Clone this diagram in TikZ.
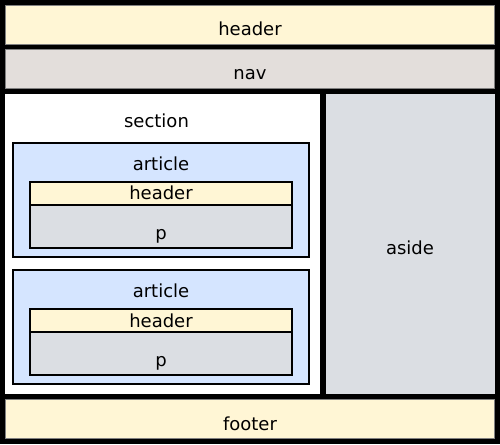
\documentclass[tikz,border=0pt]{standalone}
\usepackage{fontspec}
\setmainfont{DejaVu Sans}
\definecolor{hdrfill}{RGB}{255,246,213}
\definecolor{navfill}{RGB}{227,222,219}
\definecolor{greyfill}{RGB}{219,222,227}
\definecolor{artfill}{RGB}{213,229,255}
\definecolor{thinline}{RGB}{128,128,128}
\begin{document}
\begin{tikzpicture}[x=0.75pt, y=-0.75pt, band/.style={draw=thinline, line width=0.75pt}, part/.style={draw=black, line width=1.5pt}, every node/.style={font=\fontsize{13.5}{16}\selectfont, inner sep=0pt, anchor=base}]
\useasboundingbox (0,0) rectangle (500,444);
\fill[black] (0,0) rectangle (500,444);
\begin{scope}
\filldraw[band, fill=hdrfill] (5.5,5.5) rectangle (494.5,44);
\filldraw[band, fill=navfill] (5.5,49.5) rectangle (494.5,88.5);
\fill[white] (5,94) rectangle (320,394);
\fill[greyfill] (326,94) rectangle (495,394);
\filldraw[band, fill=hdrfill] (5.5,399.5) rectangle (494.5,438.5);
\end{scope}
\begin{scope}
\filldraw[part, fill=artfill] (13,143) rectangle (309,257);
\filldraw[part, fill=greyfill] (30,205) rectangle (292,247.5);
\filldraw[part, fill=hdrfill] (30,182) rectangle (292,205);
\filldraw[part, fill=artfill] (13,270) rectangle (309,384);
\filldraw[part, fill=greyfill] (30,332) rectangle (292,374.5);
\filldraw[part, fill=hdrfill] (30,309) rectangle (292,332);
\end{scope}
\begin{scope}
\node (hdr) at (250,35) {header};
\node (nav) at (250,79) {nav};
\node (sec) at (156.5,127) {section};
\node (aside) at (410,254) {aside};
\node (ftr) at (250,430) {footer};
\node (art1) at (161,170) {article};
\node (ahdr1) at (161,199.5) {header};
\node (p1) at (161,239) {p};
\node (art2) at (161,297.5) {article};
\node (ahdr2) at (161,327) {header};
\node (p2) at (161,366.5) {p};
\end{scope}
\end{tikzpicture}
\end{document}
